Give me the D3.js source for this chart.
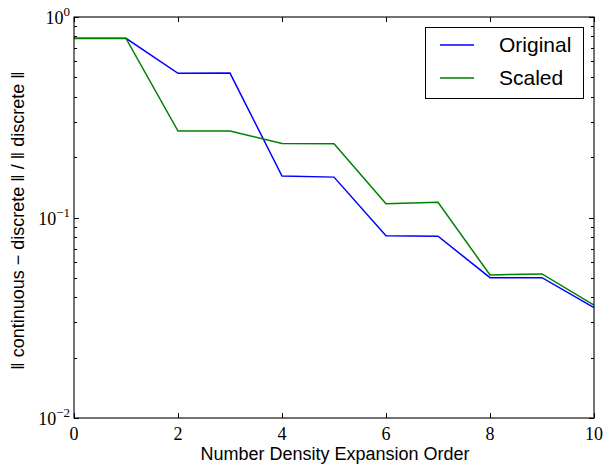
<!DOCTYPE html>
<html><head><meta charset="utf-8">
<script src="https://cdn.jsdelivr.net/npm/d3@7"></script>
<style>body{margin:0;background:#fff}</style>
</head><body>
<svg id="c" width="604" height="468"></svg>
<script>
const orders = [0,1,2,3,4,5,6,7,8,9,10];
const original = [0.783,0.783,0.524,0.525,0.161,0.159,0.081,0.0807,0.0501,0.0501,0.0355];
const scaled   = [0.782,0.782,0.270,0.270,0.234,0.233,0.117,0.119,0.0517,0.0523,0.0366];
const seriesNames = ["Original","Scaled"];
const xTicks = [0,2,4,6,8,10];
const yMajor = [-2,-1,0];

const svg = d3.select("#c");
const L=74,R=594,T=17,B=418;
const x = d3.scaleLinear().domain([0,10]).range([L,R]);
const y = d3.scaleLog().domain([0.01,1]).range([B,T]);
const serif = "'Liberation Serif','DejaVu Serif',serif";
const sans = "'Liberation Sans',Arial,sans-serif";

const g = svg.append("g");
const line = d3.line().x((d,i)=>x(orders[i])).y(d=>y(d));
const colors = ["#0000ff","#008000"];
[original,scaled].forEach((s,k)=>{
  g.append("path").attr("d",line(s)).attr("fill","none").attr("stroke",colors[k]).attr("stroke-width",1.5);
});

g.append("rect").attr("x",L).attr("y",T).attr("width",R-L).attr("height",B-T)
  .attr("fill","none").attr("stroke","#000").attr("stroke-width",1.1);

xTicks.forEach(t=>{
  const px = Math.round(x(t))+0.5;
  g.append("line").attr("x1",px).attr("x2",px).attr("y1",B).attr("y2",B-5).attr("stroke","#000");
  g.append("line").attr("x1",px).attr("x2",px).attr("y1",T).attr("y2",T+5).attr("stroke","#000");
  g.append("text").attr("x",x(t)).attr("y",B+22).attr("text-anchor","middle")
    .attr("font-family",serif).attr("font-size",18).text(t);
});

const minor = [];
[-2,-1].forEach(e=>{for(let m=2;m<=9;m++) minor.push(m*Math.pow(10,e));});
minor.forEach(v=>{
  const py = Math.round(y(v))+0.5;
  g.append("line").attr("x1",L).attr("x2",L+3).attr("y1",py).attr("y2",py).attr("stroke","#000");
  g.append("line").attr("x1",R).attr("x2",R-3).attr("y1",py).attr("y2",py).attr("stroke","#000");
});
yMajor.forEach(e=>{
  const py = Math.round(y(Math.pow(10,e)))+0.5;
  g.append("line").attr("x1",L).attr("x2",L+5).attr("y1",py).attr("y2",py).attr("stroke","#000");
  g.append("line").attr("x1",R).attr("x2",R-5).attr("y1",py).attr("y2",py).attr("stroke","#000");
  const t = g.append("text").attr("x",L-4).attr("y",py+6).attr("text-anchor","end")
    .attr("font-family",serif).attr("font-size",18);
  t.append("tspan").text("10");
  t.append("tspan").attr("dy",-8).attr("font-size",13).text(e===0?"0":"\u2212"+(-e));
});

svg.append("text").attr("x",(L+R)/2+1).attr("y",460).attr("text-anchor","middle")
  .attr("font-family",sans).attr("font-size",18).text("Number Density Expansion Order");
svg.append("text").attr("transform",`translate(24,${(T+B)/2+3}) rotate(-90)`).attr("text-anchor","middle")
  .attr("font-family",sans).attr("font-size",18).attr("xml:space","preserve")
  .text("\u2016 continuous \u2212 discrete \u2016 / \u2016 discrete \u2016");

const lg = svg.append("g");
lg.append("rect").attr("x",425.5).attr("y",27.5).attr("width",158).attr("height",71)
  .attr("fill","#fff").attr("stroke","#000").attr("stroke-width",1);
seriesNames.forEach((n,k)=>{
  const ly = 45 + k*33;
  lg.append("line").attr("x1",440).attr("x2",474).attr("y1",ly).attr("y2",ly).attr("stroke",colors[k]).attr("stroke-width",1.5);
  lg.append("text").attr("x",499).attr("y",ly+7).attr("font-family",sans).attr("font-size",21).text(n);
});
</script>
</body></html>
